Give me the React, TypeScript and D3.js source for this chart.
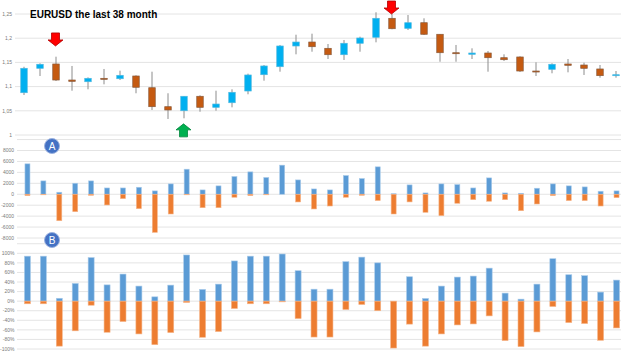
import React from "react";
import * as d3 from "d3";

const W = 625;
const H = 352;

// monthly EURUSD candles
const opens = [1.0874, 1.1378, 1.1467, 1.1136, 1.1101, 1.1171, 1.1163, 1.1219, 1.0977, 1.0585, 1.0502, 1.08, 1.0572, 1.0667, 1.0909, 1.1246, 1.1411, 1.1839, 1.1921, 1.1791, 1.1659, 1.1895, 1.2019, 1.2411, 1.2204, 1.232, 1.2081, 1.17, 1.1667, 1.1694, 1.1597, 1.1612, 1.1322, 1.1357, 1.1467, 1.1446, 1.1364, 1.1226];
const highs = [1.141, 1.1481, 1.1618, 1.1426, 1.119, 1.1364, 1.1329, 1.1233, 1.1308, 1.0862, 1.08, 1.082, 1.0915, 1.0944, 1.1267, 1.1446, 1.186, 1.2072, 1.2093, 1.188, 1.1963, 1.2031, 1.2535, 1.2497, 1.2479, 1.2411, 1.2081, 1.186, 1.1791, 1.1736, 1.1667, 1.1626, 1.1502, 1.1481, 1.157, 1.1494, 1.1446, 1.1322];
const lows = [1.0826, 1.1219, 1.1116, 1.0915, 1.0944, 1.1047, 1.1136, 1.0862, 1.0517, 1.0331, 1.0345, 1.0481, 1.0502, 1.0572, 1.0841, 1.1122, 1.1308, 1.1667, 1.1721, 1.157, 1.155, 1.1721, 1.1915, 1.2184, 1.2169, 1.2066, 1.1514, 1.1514, 1.157, 1.1308, 1.1529, 1.1302, 1.1219, 1.1275, 1.1295, 1.124, 1.1184, 1.1184];
const closes = [1.1378, 1.1461, 1.1136, 1.1109, 1.1171, 1.115, 1.1233, 1.0986, 1.0585, 1.0517, 1.08, 1.0572, 1.064, 1.0882, 1.124, 1.1426, 1.1839, 1.1921, 1.1824, 1.1659, 1.1895, 1.2004, 1.2411, 1.2196, 1.232, 1.2081, 1.17, 1.168, 1.1694, 1.1597, 1.1556, 1.1322, 1.1308, 1.1461, 1.144, 1.1378, 1.1226, 1.1246];

// panel A
const flowUp = [5560, 2440, 370, 2010, 2440, 1150, 1150, 1280, 610, 1890, 4580, 790, 1530, 3240, 4090, 3060, 5320, 2620, 970, 790, 3420, 2870, 5010, 100, 1710, 240, 1890, 1770, 1150, 2990, 240, 180, 1100, 1890, 1530, 1340, 550, 610];
const flowDown = [-250, -100, -4840, -3190, -190, -1960, -800, -2640, -6970, -3610, -100, -2460, -2460, -550, -250, -100, 0, -1410, -2690, -2150, -550, -190, -1160, -3610, -1400, -3300, -3920, -1650, -990, -1280, -990, -3010, -1780, -250, -1160, -1160, -2150, -620];

// panel B
const shareUp = [0.94, 0.94, 0.06, 0.37, 0.91, 0.34, 0.566, 0.315, 0.09, 0.335, 0.965, 0.245, 0.356, 0.84, 0.94, 0.94, 0.985, 0.636, 0.25, 0.25, 0.825, 0.92, 0.8, 0, 0.51, 0.056, 0.315, 0.503, 0.524, 0.69, 0.168, 0.042, 0.356, 0.887, 0.552, 0.532, 0.189, 0.44];
const shareDown = [-0.055, -0.055, -0.94, -0.62, -0.085, -0.65, -0.426, -0.685, -0.91, -0.657, -0.028, -0.755, -0.636, -0.154, -0.055, -0.055, -0.015, -0.364, -0.75, -0.75, -0.175, -0.07, -0.2, -0.98, -0.48, -0.94, -0.685, -0.497, -0.476, -0.308, -0.824, -0.95, -0.643, -0.112, -0.448, -0.468, -0.818, -0.56];

const priceTicks = [1, 1.05, 1.1, 1.15, 1.2, 1.25];
const flowTicks = [-8000, -6000, -4000, -2000, 0, 2000, 4000, 6000, 8000];
const flowGrid = [...flowTicks, 10000];
const shareTicks = [-1, -0.8, -0.6, -0.4, -0.2, 0, 0.2, 0.4, 0.6, 0.8, 1];
const shareGrid = [...shareTicks, 1.2];

const signals = [
  { i: 2, dir: "down", price: 1.184 },
  { i: 23, dir: "down", price: 1.25 },
  { i: 10, dir: "up", price: 1.023 },
];

const BLUE_C = "#00B0F0";
const ORANGE_C = "#C55A11";
const BLUE_B = "#5B9BD5";
const ORANGE_B = "#ED7D31";
const GRID = "#E4E4E4";
const LABEL = "#7a7a7a";

const idx = opens.map((_, i) => i);

export default function App() {
  const xPrice = d3.scaleBand<number>().domain(idx).range([16, 624]);
  const xBars = d3.scaleBand<number>().domain(idx).range([19.5, 624.5]);
  const cx = (i: number) => xPrice(i)! + xPrice.bandwidth() / 2;
  const bx = (i: number) => xBars(i)! + xBars.bandwidth() / 2;

  const yPrice = d3.scaleLinear().domain([1, 1.25]).range([135, 14]);
  const yFlow = d3.scaleLinear().domain([-8000, 8000]).range([238, 150.5]);
  const yShare = d3.scaleLinear().domain([-1, 1]).range([349, 253.3]);

  const font = "'Liberation Sans', Arial, sans-serif";
  const arrow = "M-4,-13 L4,-13 L4,-6 L7.5,-6 L0,0 L-7.5,-6 L-4,-6 Z";

  return (
    <svg width={W} height={H} style={{ position: "absolute", left: 0, top: 0, background: "#fff" }}>
      {/* price panel */}
      <g>
        {priceTicks.map((t) => (
          <g key={t}>
            <line x1={15} x2={621} y1={yPrice(t)} y2={yPrice(t)} stroke={GRID} strokeWidth={1} />
            <text x={12} y={yPrice(t) + 1.7} textAnchor="end" fontSize={5} fill={LABEL} fontFamily={font}>
              {String(t).replace(".", ",")}
            </text>
          </g>
        ))}
        {idx.map((i) => {
          const up = closes[i] >= opens[i];
          const top = yPrice(Math.max(opens[i], closes[i]));
          const bot = yPrice(Math.min(opens[i], closes[i]));
          const h = Math.max(bot - top, 1);
          const bw = 6.5;
          return (
            <g key={i}>
              <line x1={cx(i)} x2={cx(i)} y1={yPrice(highs[i])} y2={yPrice(lows[i])} stroke="#8c8c8c" strokeWidth={1} />
              <rect
                x={cx(i) - bw / 2}
                y={top}
                width={bw}
                height={h}
                fill={up ? BLUE_C : ORANGE_C}
                stroke={up ? "#4db8e0" : "#8a5a3a"}
                strokeWidth={0.7}
              />
            </g>
          );
        })}
        <text x={30} y={17.5} fontSize={10} fontWeight="bold" fill="#000" fontFamily={font}>
          EURUSD the last 38 month
        </text>
        {signals.map((s) => (
          <path
            key={s.i}
            d={arrow}
            transform={`translate(${cx(s.i) - 0.5},${yPrice(s.price)}) scale(1,${s.dir === "up" ? -1 : 1})`}
            fill={s.dir === "up" ? "#00B050" : "#FF0000"}
            stroke={s.dir === "up" ? "#00863c" : "#b00000"}
            strokeWidth={0.8}
          />
        ))}
      </g>

      {/* panel A */}
      <g>
        {flowGrid.map((t) => (
          <line key={t} x1={17} x2={621} y1={yFlow(t)} y2={yFlow(t)} stroke={GRID} strokeWidth={1} />
        ))}
        {flowTicks.map((t) => (
          <text key={t} x={14} y={yFlow(t) + 1.7} textAnchor="end" fontSize={5} fill={LABEL} fontFamily={font}>
            {String(t)}
          </text>
        ))}
        {idx.map((i) => (
          <g key={i}>
            <rect x={bx(i) - 2.5} y={yFlow(flowUp[i])} width={5} height={yFlow(0) - yFlow(flowUp[i])} fill={BLUE_B} stroke="#a9cbea" strokeWidth={0.6} />
            <rect x={bx(i) - 2.5} y={yFlow(0)} width={5} height={yFlow(flowDown[i]) - yFlow(0)} fill={ORANGE_B} stroke="#f5b58a" strokeWidth={0.6} />
          </g>
        ))}
      </g>

      {/* panel B */}
      <g>
        {shareGrid.map((t) => (
          <line key={t} x1={17} x2={621} y1={yShare(t)} y2={yShare(t)} stroke={GRID} strokeWidth={1} />
        ))}
        {shareTicks.map((t) => (
          <text key={t} x={14.5} y={yShare(t) + 1.7} textAnchor="end" fontSize={5} fill={LABEL} fontFamily={font}>
            {`${Math.round(t * 100)}%`}
          </text>
        ))}
        {idx.map((i) => (
          <g key={i}>
            <rect x={bx(i) - 3} y={yShare(shareUp[i])} width={6} height={yShare(0) - yShare(shareUp[i])} fill={BLUE_B} stroke="#a9cbea" strokeWidth={0.6} />
            <rect x={bx(i) - 3} y={yShare(0)} width={6} height={yShare(shareDown[i]) - yShare(0)} fill={ORANGE_B} stroke="#f5b58a" strokeWidth={0.6} />
          </g>
        ))}
      </g>

      {/* panel markers */}
      {[
        { label: "A", y: 146 },
        { label: "B", y: 240 },
      ].map((m) => (
        <g key={m.label}>
          <circle cx={52} cy={m.y} r={7.5} fill="#4472C4" stroke="#9db3e0" strokeWidth={1} />
          <text x={52} y={m.y + 3.6} textAnchor="middle" fontSize={10} fill="#fff" fontFamily={font}>
            {m.label}
          </text>
        </g>
      ))}
    </svg>
  );
}
